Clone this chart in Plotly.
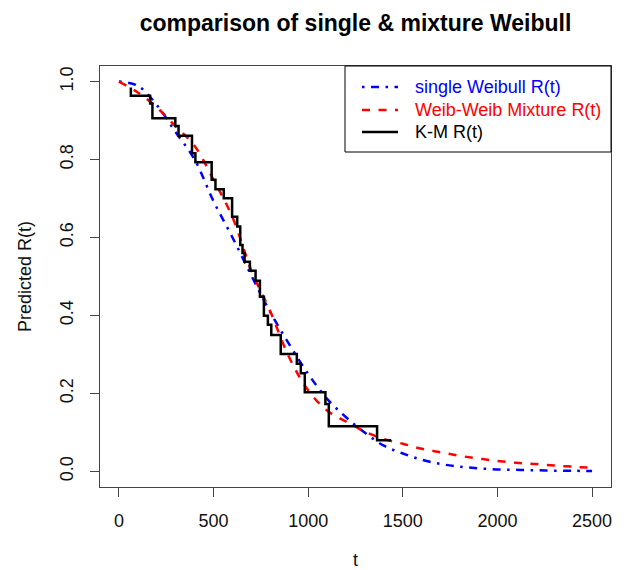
import plotly.graph_objects as go

# ---- data ----
t_grid = [0, 100, 200, 300, 400, 500, 600, 700, 800, 900, 1000, 1100, 1200,
          1300, 1400, 1500, 1600, 1700, 1800, 1900, 2000, 2100, 2200, 2300, 2400, 2500]
single_weibull = [1.0, 0.989, 0.94, 0.87, 0.80, 0.693, 0.60, 0.502, 0.408, 0.326, 0.25,
                  0.186, 0.139, 0.099, 0.066, 0.046, 0.030, 0.019, 0.012, 0.008, 0.005,
                  0.004, 0.003, 0.002, 0.0015, 0.001]
mixture_weibull = [1.0, 0.972, 0.934, 0.885, 0.835, 0.748, 0.652, 0.515, 0.41, 0.292, 0.208,
                   0.156, 0.128, 0.102, 0.083, 0.071, 0.058, 0.049, 0.040, 0.033, 0.027,
                   0.022, 0.019, 0.015, 0.012, 0.009]

km_t = [63, 63, 165, 177, 298, 315, 386, 404, 490, 510, 554, 598, 625, 641, 653, 664,
        692, 722, 745, 766, 787, 805, 855, 940, 961, 982, 1091, 1109, 1364, 1438]
km_r = [0.985, 0.964, 0.944, 0.906, 0.886, 0.861, 0.816, 0.793, 0.748, 0.724, 0.701,
        0.653, 0.628, 0.581, 0.560, 0.538, 0.515, 0.489, 0.448, 0.399, 0.376, 0.350,
        0.301, 0.276, 0.252, 0.203, 0.173, 0.116, 0.080, 0.080]

x_ticks = [0, 500, 1000, 1500, 2000, 2500]
y_ticks = [0.0, 0.2, 0.4, 0.6, 0.8, 1.0]
y_ticktext = ["0.0", "0.2", "0.4", "0.6", "0.8", "1.0"]

legend_labels = ["single Weibull R(t)", "Weib-Weib Mixture R(t)", "K-M R(t)"]
legend_colors = ["#0000FF", "#FF0000", "#000000"]
legend_dashes = ["2.5px,6.5px,8px,6.5px", "8px,8.5px", "solid"]

FONT = "Liberation Sans, Arial, sans-serif"
W, H = 626, 570
L, R, T, B = 100, 15, 66, 83
PW, PH = W - L - R, H - T - B


def px_x(p):
    return (p - L) / PW


def px_y(p):
    return (H - B - p) / PH


fig = go.Figure()
fig.add_trace(go.Scatter(
    x=t_grid, y=single_weibull, mode="lines", line_shape="spline",
    name=legend_labels[0],
    line=dict(color=legend_colors[0], width=2.5, dash=legend_dashes[0])))
fig.add_trace(go.Scatter(
    x=t_grid, y=mixture_weibull, mode="lines", line_shape="spline",
    name=legend_labels[1],
    line=dict(color=legend_colors[1], width=2.5, dash=legend_dashes[1])))
fig.add_trace(go.Scatter(
    x=km_t, y=km_r, mode="lines", line_shape="hv",
    name=legend_labels[2], line=dict(color=legend_colors[2], width=2.5)))

# legend drawn R-style: box, sample lines and coloured labels
shapes = [dict(type="rect", xref="paper", yref="paper",
               x0=px_x(345), x1=1, y0=px_y(152), y1=1,
               line=dict(color="#000000", width=1))]
annotations = []
row_y = [87, 110, 132]
for lab, col, dsh, ry in zip(legend_labels, legend_colors, legend_dashes, row_y):
    shapes.append(dict(type="line", xref="paper", yref="paper",
                       x0=px_x(362), x1=px_x(398), y0=px_y(ry), y1=px_y(ry),
                       line=dict(color=col, width=2.5, dash=dsh)))
    annotations.append(dict(text=lab, xref="paper", yref="paper",
                            x=px_x(413), y=px_y(ry), xanchor="left", yanchor="middle",
                            showarrow=False,
                            font=dict(family=FONT, size=18, color=col)))

fig.update_layout(
    width=W, height=H,
    margin=dict(l=L, r=R, t=T, b=B),
    paper_bgcolor="white", plot_bgcolor="white",
    font=dict(family=FONT, size=18, color="#111111"),
    title=dict(text="<b>comparison of single & mixture Weibull</b>",
               x=0.5, xref="paper", xanchor="center",
               y=1 - 23 / H, yref="container", yanchor="middle",
               font=dict(family=FONT, size=23, color="#000000")),
    showlegend=False,
    shapes=shapes,
    annotations=annotations,
)

fig.update_xaxes(range=[-100, 2600], tickvals=x_ticks, ticks="outside", ticklen=9,
                 tickwidth=1, tickcolor="#444444", showline=True, mirror=True,
                 linecolor="#444444", linewidth=1, showgrid=False, zeroline=False,
                 automargin=False, ticklabelstandoff=8,
                 title=dict(text="t", standoff=30, font=dict(family=FONT, size=18)))
fig.update_yaxes(range=[-0.04, 1.04], tickvals=y_ticks, ticktext=y_ticktext,
                 tickangle=-90, ticks="outside", ticklen=9, tickwidth=1,
                 tickcolor="#444444", showline=True, mirror=True, linecolor="#444444",
                 linewidth=1, showgrid=False, zeroline=False, automargin=False,
                 ticklabelstandoff=10,
                 title=dict(text="Predicted R(t)", standoff=20,
                            font=dict(family=FONT, size=18)))

fig.write_html("out.html", config={"displayModeBar": False},
               post_script="document.body.style.margin='0px';"
                           "document.body.style.overflow='hidden';")
